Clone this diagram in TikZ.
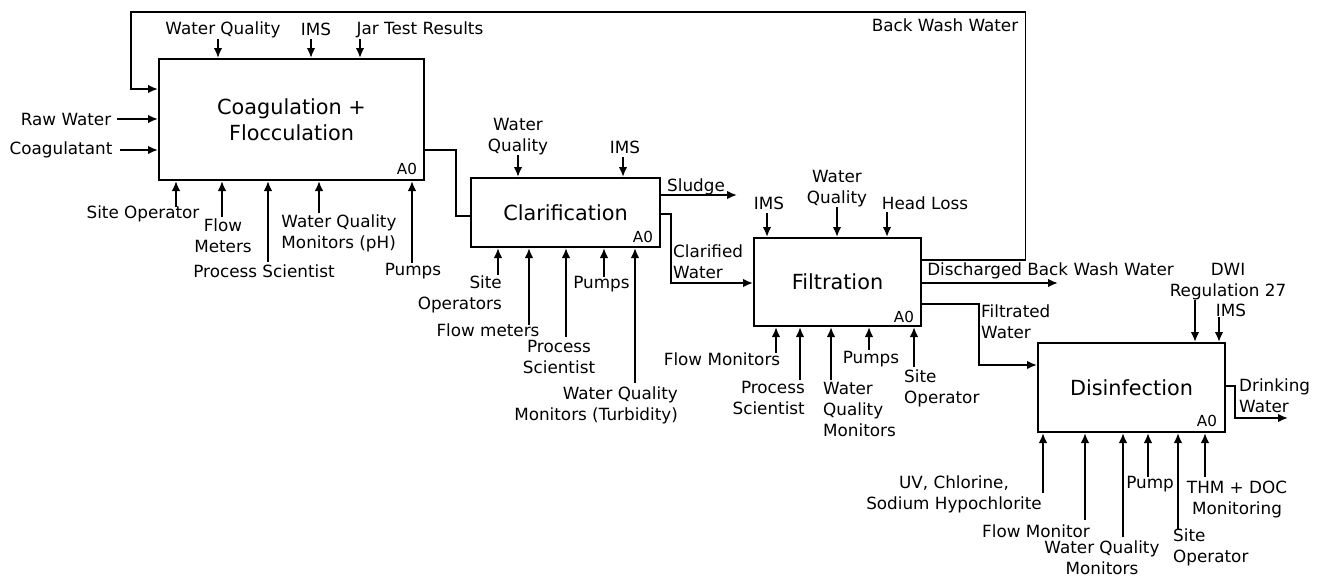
\documentclass[tikz,border=0pt]{standalone}
\usepackage{fontspec}
\setmainfont{DejaVu Sans}
\usetikzlibrary{arrows.meta}

\tikzset{
  proc/.style={draw, line width=2pt, inner sep=0pt, align=center, font=\fontsize{20.8}{26}\selectfont},
  lbl/.style={inner sep=0pt, font=\fontsize{16.8}{21}\selectfont},
  tag/.style={inner sep=0pt, font=\fontsize{15.2}{18}\selectfont},
  arr/.style={line width=1.8pt, -{Latex[length=10pt,width=8.5pt]}},
  flow/.style={line width=1.8pt}
}

\begin{document}
\begin{tikzpicture}[x=1pt,y=-1pt]
\useasboundingbox (0,0) rectangle (1320,576);

% process boxes
\node[proc, minimum width=265pt, minimum height=121pt] (coag) at (291.5,119.5) {Coagulation +\\Flocculation};
\node[proc, minimum width=189pt, minimum height=69pt] (clar) at (565.5,212.5) {Clarification};
\node[proc, minimum width=167pt, minimum height=88pt] (filt) at (837.5,282) {Filtration};
\node[proc, minimum width=187pt, minimum height=89pt] (dis) at (1131.5,387.5) {Disinfection};
\node[tag] (coagA) at (407,169) {A0};
\node[tag] (clarA) at (643,237) {A0};
\node[tag] (filtA) at (904,317) {A0};
\node[tag] (disA) at (1207,421) {A0};

% coagulation + flocculation
\node[lbl] (wq1) at (223,29.5) {Water Quality};
\node[lbl] (ims1) at (316,29) {IMS};
\node[lbl] (jar) at (420,29.5) {Jar Test Results};
\node[lbl] (raw) at (66,119) {Raw Water};
\node[lbl] (cgl) at (61,150) {Coagulatant};
\node[lbl] (so1) at (143,213.5) {Site Operator};
\node[lbl, align=center] (fm1) at (223,236) {Flow\\Meters};
\node[lbl] (ps1) at (264,271) {Process Scientist};
\node[lbl, align=left] (wqm1) at (339,233) {Water Quality\\Monitors (pH)};
\node[lbl] (pu1) at (413,271) {Pumps};
\node[lbl] (bww) at (945,25) {Back Wash Water};
\foreach \x in {218,311,360}
  \draw[arr] (\x,39) -- (\x,0 |- coag.north);
\draw[arr] (raw.east) ++(6,0) -- (raw -| coag.west);
\draw[arr] (cgl.east) ++(7,0) -- (cgl -| coag.west);
\foreach \x/\y in {176/207, 222/217, 268/262, 319/213, 412/263}
  \draw[arr] (\x,\y) -- (\x,0 |- coag.south);
\draw[arr] (filt.east |- 0,260) -| (1025.5,12.3) -| (130.7,89) -- (coag.west |- 0,89);
\draw[flow] (coag.east |- 0,150) -| (456,216) -- (clar.west |- 0,216);

% clarification
\node[lbl, align=center] (wq2) at (518,136.5) {Water\\Quality};
\node[lbl] (ims2) at (625,147) {IMS};
\node[lbl] (sludge) at (696,186.5) {Sludge};
\node[lbl, anchor=west, align=left] (clw) at (673,261.5) {Clarified\\Water};
\node[lbl, anchor=east, align=right] (so2) at (502,294) {Site\\Operators};
\node[lbl] (fm2) at (488,330) {Flow meters};
\node[lbl, align=center] (ps2) at (559,356.5) {Process\\Scientist};
\node[lbl] (pu2) at (601.5,284.5) {Pumps};
\node[lbl, anchor=east, align=right] (wqm2) at (678,405) {Water Quality\\Monitors (Turbidity)};
\foreach \x/\y in {518/155, 623/157}
  \draw[arr] (\x,\y) -- (\x,0 |- clar.north);
\foreach \x/\y in {498/275, 529/325, 566/337, 604/277, 635/383}
  \draw[arr] (\x,\y) -- (\x,0 |- clar.south);
\draw[arr] (clar.east |- 0,195) -- (737,195);
\draw[arr] (clar.east |- 0,214) -| (671,283) -- (filt.west |- 0,283);

% filtration
\node[lbl] (ims3) at (769,203.5) {IMS};
\node[lbl, align=center] (wq3) at (837,188.5) {Water\\Quality};
\node[lbl] (hl) at (925,203.5) {Head Loss};
\node[lbl] (dbw) at (1050.5,270.5) {Discharged Back Wash Water};
\node[lbl, anchor=west, align=left] (ftw) at (981,321.5) {Filtrated\\Water};
\node[lbl] (fmo3) at (722,359.5) {Flow Monitors};
\node[lbl, anchor=east, align=right] (ps3) at (805,397.5) {Process\\Scientist};
\node[lbl, anchor=west, align=left] (wqm3) at (823,409.5) {Water\\Quality\\Monitors};
\node[lbl] (pu3) at (871,359.5) {Pumps};
\node[lbl, anchor=west, align=left] (so3) at (904,388.5) {Site\\Operator};
\foreach \x/\y in {767/213, 837/207, 887/212}
  \draw[arr] (\x,\y) -- (\x,0 |- filt.north);
\foreach \x/\y in {776/353, 800/380, 831/380, 869/350, 914/367}
  \draw[arr] (\x,\y) -- (\x,0 |- filt.south);
\draw[arr] (filt.east |- 0,283) -- (1058,283);
\draw[arr] (filt.east |- 0,304) -| (979,365) -- (dis.west |- 0,365);

% disinfection
\node[lbl, align=center] (dwi) at (1228,281.5) {DWI\\Regulation 27};
\node[lbl] (ims4) at (1231,310) {IMS};
\node[lbl, anchor=west, align=left] (dw) at (1239,395.5) {Drinking\\Water};
\node[lbl, align=center] (uv) at (954,494) {UV, Chlorine,\\Sodium Hypochlorite};
\node[lbl] (fmo4) at (1036,531) {Flow Monitor};
\node[lbl, align=center] (wqm4) at (1102,557.5) {Water Quality\\Monitors};
\node[lbl] (pu4) at (1150,484.5) {Pump};
\node[lbl, anchor=west, align=left] (so4) at (1173,547.5) {Site\\Operator};
\node[lbl, align=center] (thm) at (1237,499.5) {THM + DOC\\Monitoring};
\foreach \x/\y in {1195/300, 1219/317}
  \draw[arr] (\x,\y) -- (\x,0 |- dis.north);
\foreach \x/\y in {1043/493, 1085/520, 1123/537, 1148/477, 1178/530, 1205/477}
  \draw[arr] (\x,\y) -- (\x,0 |- dis.south);
\draw[arr] (dis.east |- 0,386) -| (1235,418) -- (1288,418);
\end{tikzpicture}
\end{document}
